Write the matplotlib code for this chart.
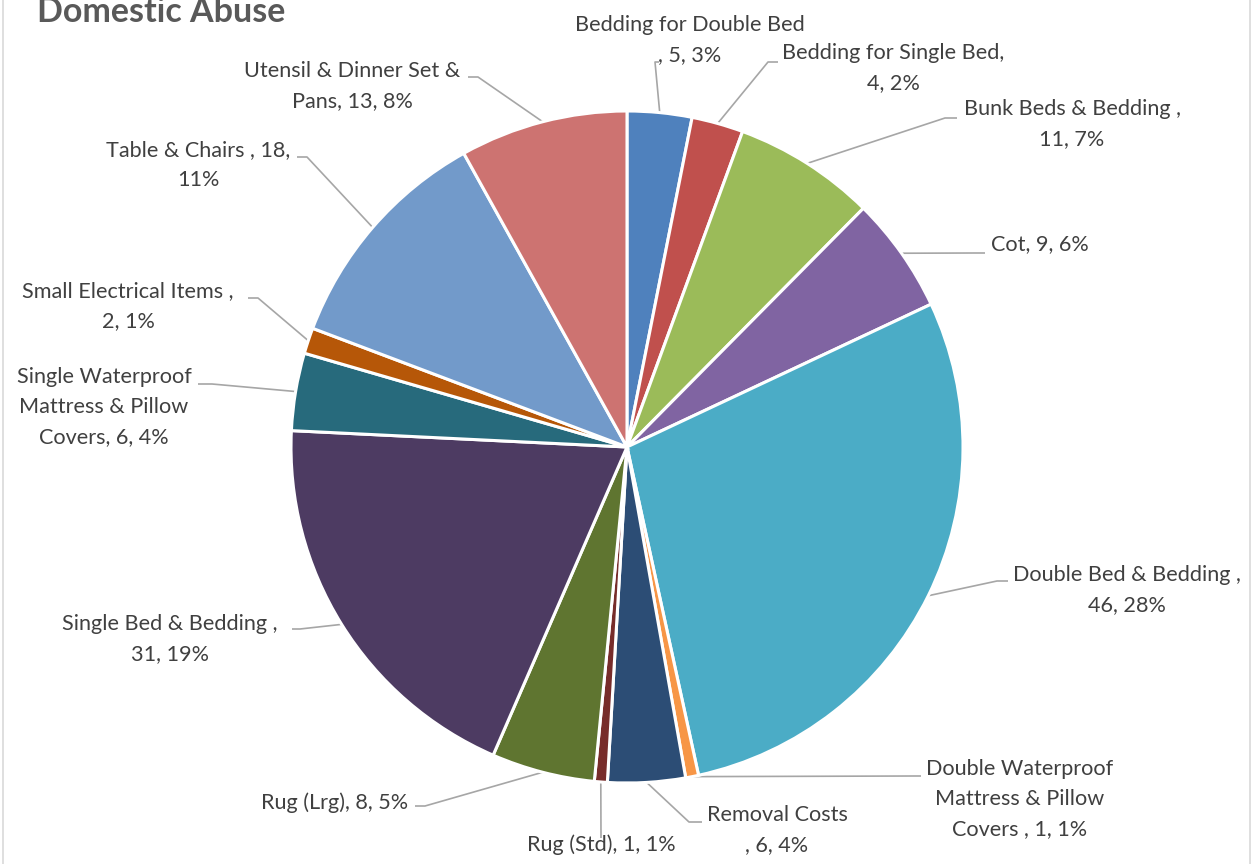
import matplotlib
matplotlib.use("Agg")
import matplotlib.pyplot as plt
from matplotlib.lines import Line2D
import numpy as np

W, H = 1252, 864

# ---- data -------------------------------------------------------------
categories = [
    "Bedding for Double Bed", "Bedding for Single Bed", "Bunk Beds & Bedding",
    "Cot", "Double Bed & Bedding", "Double Waterproof Mattress & Pillow Covers",
    "Removal Costs", "Rug (Std)", "Rug (Lrg)", "Single Bed & Bedding",
    "Single Waterproof Mattress & Pillow Covers", "Small Electrical Items",
    "Table & Chairs", "Utensil & Dinner Set & Pans",
]
counts = [5, 4, 11, 9, 46, 1, 6, 1, 8, 31, 6, 2, 18, 13]
percents = [3, 2, 7, 6, 28, 1, 4, 1, 5, 19, 4, 1, 11, 8]

# wrapped label layouts ({n} = count, {p} = percent)
label_templates = [
    "Bedding for Double Bed\n, {n}, {p}%",
    "Bedding for Single Bed,\n{n}, {p}%",
    "Bunk Beds & Bedding ,\n{n}, {p}%",
    "Cot, {n}, {p}%",
    "Double Bed & Bedding ,\n{n}, {p}%",
    "Double Waterproof\nMattress & Pillow\nCovers , {n}, {p}%",
    "Removal Costs\n, {n}, {p}%",
    "Rug (Std), {n}, {p}%",
    "Rug (Lrg), {n}, {p}%",
    "Single Bed & Bedding ,\n{n}, {p}%",
    "Single Waterproof\nMattress & Pillow\nCovers, {n}, {p}%",
    "Small Electrical Items ,\n{n}, {p}%",
    "Table & Chairs , {n},\n{p}%",
    "Utensil & Dinner Set &\nPans, {n}, {p}%",
]

colors = ["#4F81BD", "#C0504D", "#9BBB59", "#8064A2", "#4BACC6", "#F79646",
          "#2C4D75", "#772C2A", "#5F7530", "#4D3B62", "#276A7C", "#B65708",
          "#729ACA", "#CD7371"]

# ---- layout (pixel coordinates, y measured from the top) ---------------
pie_center = (627, 447)
pie_radius = 336
label_pos = [(690, 40), (893, 68), (1072, 124), (1040, 244), (1127, 590),
             (1020, 799), (777, 830), (601, 845), (335, 803), (170, 639),
             (104, 407), (128, 306), (198, 165), (352, 86)]
leader_pts = [
    [(655, 62), (659, 62)],
    [(768, 62), (778, 62)],
    [(945, 118), (957, 118)],
    [(975, 253), (985, 253)],
    [(997, 581), (1008, 581)],
    [(915, 776), (921, 776)],
    [(689, 822), (702, 822)],
    [(601, 838)],
    [(425, 806), (415, 806)],
    [(300, 629), (292, 629)],
    [(212, 384), (198, 384)],
    [(258, 298), (248, 298)],
    [(307, 157), (297, 157)],
    [(478, 77), (468, 77)],
]

def fy(y):
    return H - y

plt.rcParams["font.family"] = ["Lato", "DejaVu Sans"]
fig = plt.figure(figsize=(W / 100, H / 100), dpi=100)
fig.patch.set_facecolor("white")
ax = fig.add_axes([0, 0, 1, 1])

wedges, _ = ax.pie(
    counts,
    colors=colors,
    startangle=90,
    counterclock=False,
    center=(pie_center[0], fy(pie_center[1])),
    radius=pie_radius,
    wedgeprops=dict(edgecolor="white", linewidth=2.2, antialiased=True),
)
ax.set_xlim(0, W)
ax.set_ylim(0, H)
ax.set_aspect("equal")
ax.axis("off")

text_color = "#404040"
line_color = "#A6A6A6"

for i, w in enumerate(wedges):
    mid = np.deg2rad((w.theta1 + w.theta2) / 2)
    sx = pie_center[0] + pie_radius * np.cos(mid)
    sy = fy(pie_center[1]) + pie_radius * np.sin(mid)
    xs = [sx] + [p[0] for p in leader_pts[i]]
    ys = [sy] + [fy(p[1]) for p in leader_pts[i]]
    ax.plot(xs, ys, color=line_color, lw=1.2, solid_capstyle="butt", zorder=0.5)
    txt = label_templates[i].format(n=counts[i], p=percents[i])
    ax.text(label_pos[i][0], fy(label_pos[i][1]), txt, ha="center",
            va="center", multialignment="center", fontsize=15.6,
            color=text_color, linespacing=1.62)

ax.text(37, fy(22), "Domestic Abuse", fontsize=24.5, fontweight="bold",
        color="#595959", ha="left", va="baseline")

# chart area border
for xb in (2.5 / W, 1249.5 / W):
    fig.add_artist(Line2D([xb, xb], [0, 1], transform=fig.transFigure,
                          color="#D9D9D9", lw=1.2))

fig.savefig("out.png", dpi=100, facecolor="white")
